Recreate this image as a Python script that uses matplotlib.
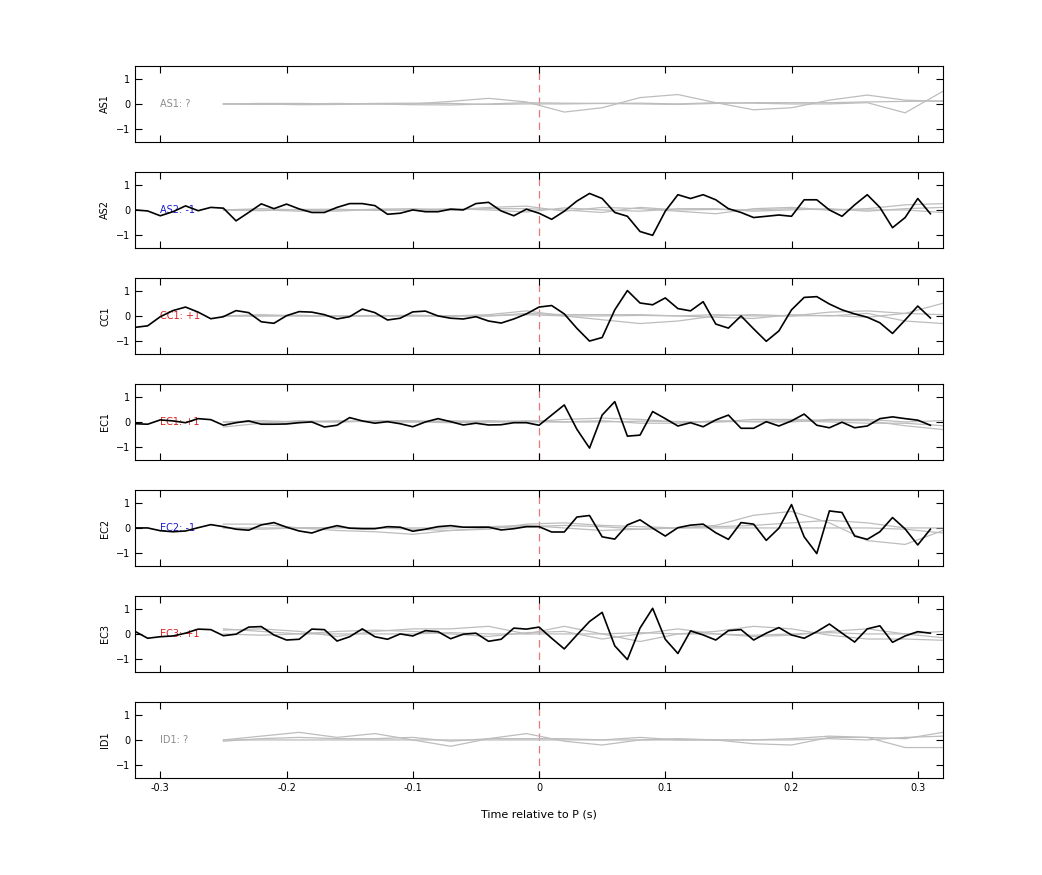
import matplotlib
matplotlib.use("Agg")
import matplotlib.pyplot as plt
import numpy as np

STATIONS = ["AS1", "AS2", "CC1", "EC1", "EC2", "EC3", "ID1"]
LABELS = ["AS1: ?", "AS2: -1", "CC1: +1", "EC1: +1", "EC2: -1", "EC3: +1", "ID1: ?"]
LABEL_COLORS = ["#8c8c8c", "#1a1acc", "#dd2222", "#dd2222", "#1a1acc", "#dd2222", "#8c8c8c"]

# black traces, sampled every 0.01 s from -0.32 to 0.31
T_BLACK = np.round(np.arange(-0.32, 0.315, 0.01), 2)
BLACK = {
    "AS2": [0, -0.04, -0.23, -0.07, 0.16, -0.03, 0.1, 0.07, -0.43, -0.1, 0.24, 0.05, 0.23, 0.04, -0.1, -0.1,
            0.1, 0.25, 0.25, 0.17, -0.17, -0.13, 0, -0.07, -0.07, 0.03, 0, 0.25, 0.3, -0.04, -0.23, 0.03,
            -0.13, -0.37, -0.05, 0.35, 0.65, 0.45, -0.1, -0.25, -0.85, -1.0, -0.05, 0.6, 0.45, 0.6, 0.4, 0.05,
            -0.1, -0.3, -0.25, -0.2, -0.25, 0.4, 0.4, 0.0, -0.25, 0.2, 0.6, 0.1, -0.7, -0.3, 0.45, -0.15],
    "CC1": [-0.45, -0.39, -0.03, 0.21, 0.35, 0.15, -0.11, -0.03, 0.21, 0.13, -0.23, -0.29, 0.01, 0.17, 0.15, 0.05,
            -0.12, -0.03, 0.27, 0.13, -0.16, -0.09, 0.16, 0.19, 0, -0.09, -0.12, -0.03, -0.2, -0.28, -0.12, 0.08,
            0.35, 0.41, 0.08, -0.49, -0.99, -0.85, 0.24, 1.0, 0.51, 0.44, 0.71, 0.29, 0.2, 0.56, -0.32, -0.48,
            0, -0.51, -1.0, -0.59, 0.24, 0.73, 0.76, 0.47, 0.24, 0.08, -0.05, -0.27, -0.69, -0.16, 0.39, -0.08],
    "EC1": [-0.07, -0.09, 0.08, 0.04, -0.03, 0.13, 0.09, -0.13, -0.03, 0.04, -0.09, -0.09, -0.08, -0.03, 0, -0.2,
            -0.13, 0.17, 0.04, -0.05, 0.01, -0.07, -0.19, 0, 0.13, 0.01, -0.12, -0.05, -0.12, -0.11, -0.03, -0.03,
            -0.13, 0.27, 0.67, -0.29, -1.03, 0.27, 0.8, -0.56, -0.52, 0.41, 0.13, -0.16, -0.03, -0.19, 0.08, 0.27,
            -0.25, -0.25, 0.01, -0.16, 0.04, 0.31, -0.13, -0.23, -0.01, -0.23, -0.16, 0.13, 0.2, 0.13, 0.07, -0.13],
    "EC2": [0, 0, -0.11, -0.15, -0.12, 0.01, 0.13, 0.05, -0.05, -0.09, 0.12, 0.21, 0.03, -0.12, -0.2, -0.03,
            0.09, -0.01, -0.03, -0.03, 0.05, 0.03, -0.13, -0.05, 0.05, 0.09, 0.03, 0.03, 0.03, -0.08, -0.03, 0.05,
            0.05, -0.16, -0.16, 0.43, 0.49, -0.35, -0.44, 0.12, 0.32, -0.01, -0.32, 0.01, 0.11, 0.15, -0.19, -0.45,
            0.21, 0.15, -0.49, -0.01, 0.92, -0.35, -1.01, 0.67, 0.61, -0.32, -0.45, -0.15, 0.41, -0.04, -0.67, -0.05],
    "EC3": [0.1, -0.17, -0.11, -0.08, 0.03, 0.19, 0.17, -0.07, -0.01, 0.27, 0.29, -0.04, -0.24, -0.21, 0.19, 0.17,
            -0.28, -0.11, 0.2, -0.11, -0.21, 0, -0.08, 0.13, 0.09, -0.19, -0.01, 0.03, -0.29, -0.21, 0.23, 0.19,
            0.27, -0.17, -0.59, -0.04, 0.49, 0.85, -0.47, -1.01, 0.23, 1.01, -0.21, -0.77, 0.12, -0.04, -0.24, 0.13,
            0.17, -0.24, 0.03, 0.25, -0.04, -0.17, 0.09, 0.39, 0.03, -0.32, 0.2, 0.32, -0.33, -0.08, 0.09, 0.03],
}

# grey reference traces, sampled every 0.03 s from -0.25 to 0.32
T_GREY = np.round(np.arange(-0.25, 0.325, 0.03), 2)
GREY = {
    "AS1": [[0, 0, -0.03, -0.02, 0, 0, 0.1, 0.22, 0.08, -0.32, -0.15, 0.25, 0.37, 0.05, -0.23, -0.15, 0.15, 0.35, 0.15, 0.1],
            [0, -0.02, 0, 0.02, 0, -0.03, -0.04, 0, 0.05, 0.03, 0.02, 0.03, 0, 0.05, 0.03, 0, 0, 0.05, -0.35, 0.5],
            [0, 0.02, 0.02, 0, 0.02, 0.03, 0.02, -0.02, 0, 0, 0.02, 0, -0.02, 0.02, 0.05, 0.05, 0.05, 0.08, 0.1, 0.12]],
    "AS2": [[0, 0.05, 0, -0.05, 0.03, 0.05, 0, 0.1, 0.15, -0.05, 0.1, 0.05, -0.05, -0.15, 0.05, 0.1, 0, 0.05, 0.2, 0.25],
            [0, -0.03, 0.02, 0.03, -0.02, 0, 0.05, 0, -0.08, 0.08, 0, -0.05, 0.05, 0.05, -0.05, 0, 0.05, -0.05, 0.05, 0.1],
            [0, 0, -0.05, 0, 0.02, -0.02, 0, 0.05, 0.05, 0, -0.1, 0.1, 0, 0.02, 0, 0.05, 0, 0, 0, -0.1]],
    "CC1": [[0, 0.05, 0, 0, 0.02, 0, 0, 0.05, 0.2, 0, -0.15, -0.3, -0.2, 0, 0.05, 0, 0.15, 0.2, 0.1, 0.5],
            [0, 0, 0.03, -0.02, 0, 0.03, 0, 0, 0.1, 0.05, 0.05, 0.05, 0, -0.05, -0.1, 0.05, 0, 0.1, -0.2, -0.3],
            [0, 0, 0, 0, 0, 0, 0, 0, 0.05, 0, 0, 0.02, 0, 0.05, 0, 0, 0.02, -0.05, 0.1, 0.05]],
    "EC1": [[-0.2, -0.05, 0.05, 0, 0.05, 0.05, 0, 0.05, 0, 0.1, 0.15, 0.1, 0, 0, 0.1, 0.1, 0.05, 0.05, -0.15, -0.3],
            [0, 0.05, 0, 0.05, 0, 0, 0.05, 0, 0.05, 0, 0.05, -0.05, -0.05, 0.05, 0, 0, 0.1, 0.1, 0, 0.05],
            [0, 0, 0, 0, 0.03, 0, -0.03, 0, 0, 0, 0, 0.03, 0.02, 0, 0.03, 0.05, 0, -0.05, -0.05, -0.15]],
    "EC2": [[0.15, 0.15, 0, 0, 0, -0.05, -0.1, -0.05, 0.15, 0.2, 0.1, 0.05, 0, 0.1, 0.5, 0.65, 0.2, -0.5, -0.65, -0.1],
            [0, -0.05, 0, -0.1, -0.15, -0.25, -0.1, 0, 0.05, 0.1, 0.05, -0.05, 0, 0.05, 0.1, 0.2, 0.3, 0.2, 0, 0],
            [0, 0, 0, 0.02, 0, 0, 0, 0.05, 0.1, 0, -0.1, -0.05, 0, 0, 0, 0, 0, 0, -0.05, -0.2]],
    "EC3": [[0.15, 0.2, 0.1, -0.1, 0.1, 0.2, 0.2, 0.3, 0, 0.3, 0, -0.3, 0, 0.1, 0.3, 0.2, -0.05, -0.2, -0.2, -0.25],
            [0, -0.05, 0, 0.1, 0.15, 0.1, 0, -0.1, 0.05, 0.1, -0.2, 0, 0.2, 0, -0.1, -0.05, 0.1, 0.2, 0, -0.15],
            [0.2, 0.1, 0, 0, 0, 0, 0.05, 0, 0, 0, 0, 0.05, 0, 0, -0.05, 0, 0.05, 0, 0, 0.1]],
    "ID1": [[0, 0.15, 0.3, 0.1, 0.25, 0, -0.25, 0.05, 0.25, -0.05, -0.2, 0, 0.05, 0, -0.15, -0.2, 0.1, 0.1, -0.3, -0.3],
            [-0.05, 0.05, 0.1, 0.05, 0.05, 0.1, -0.05, 0.05, 0.05, 0.05, 0, 0.1, 0, 0, 0, 0.05, 0.15, 0.1, 0.05, 0.3],
            [0, 0, 0, 0, 0, 0, 0, 0, 0, 0, 0, 0, 0, 0, 0, 0, 0.05, 0, 0.1, 0.15]],
}

fig = plt.figure(figsize=(10.42, 8.75), dpi=100)
left, width, height = 0.1296, 0.7754, 0.087
tops = [66, 172, 278, 384, 490, 596, 702]

for i, sta in enumerate(STATIONS):
    bottom = 1 - (tops[i] + 76) / 875
    ax = fig.add_axes([left, bottom, width, height])
    ax.axvline(0, color="#e87878", lw=0.9, ls=(0, (6, 4)), zorder=1)
    for g in GREY[sta]:
        ax.plot(T_GREY, g, color="#bdbdbd", lw=0.9, zorder=2)
    ax.text(-0.3, 0, LABELS[i], color=LABEL_COLORS[i], fontsize=7, va="center", ha="left", zorder=3)
    if sta in BLACK:
        ax.plot(T_BLACK, BLACK[sta], color="black", lw=1.2, zorder=4)
    ax.set_xlim(-0.32, 0.32)
    ax.set_ylim(-1.5, 1.5)
    ax.set_yticks([-1, 0, 1])
    ax.set_xticks([-0.3, -0.2, -0.1, 0, 0.1, 0.2, 0.3])
    ax.tick_params(direction="in", top=True, right=True, labelsize=7, length=5)
    ax.set_ylabel(sta, fontsize=7)
    if i < len(STATIONS) - 1:
        ax.set_xticklabels([])
    else:
        ax.set_xticklabels(["-0.3", "-0.2", "-0.1", "0", "0.1", "0.2", "0.3"])
        ax.set_xlabel("Time relative to P (s)", fontsize=8, labelpad=12)

fig.savefig("out.png", dpi=100)
